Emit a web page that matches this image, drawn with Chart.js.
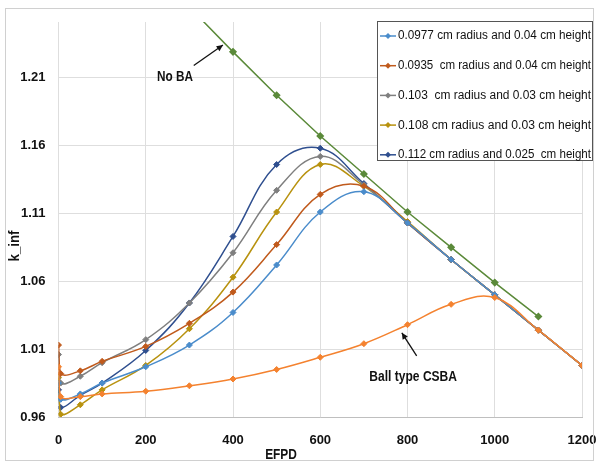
<!DOCTYPE html>
<html>
<head>
<meta charset="utf-8">
<script src="https://cdn.jsdelivr.net/npm/chart.js@4/dist/chart.umd.min.js"></script>
<style>
  body { margin: 0; background: #fff; }
</style>
</head>
<body>
<canvas id="stage" width="596" height="466"></canvas>
<script>
// burnup points (EFPD); 5 = just after xenon build-up
var efpd = [0, 5, 50, 100, 200, 300, 400, 500, 600, 700, 800, 900, 1000, 1100, 1200];
var efpdNoBA = [300, 400, 500, 600, 700, 800, 900, 1000, 1100];

var r0977 = [0.985, 0.973, 0.977, 0.985, 0.997, 1.013, 1.037, 1.072, 1.111, 1.126, 1.103, 1.076, 1.050, 1.024, 0.998];
var r0935 = [1.013, 0.992, 0.994, 1.001, 1.012, 1.029, 1.052, 1.087, 1.124, 1.130, 1.103, 1.076, 1.050, 1.024, 0.998];
var r103  = [1.006, 0.985, 0.990, 1.000, 1.017, 1.044, 1.081, 1.127, 1.152, 1.131, 1.103, 1.076, 1.050, 1.024, 0.998];
var r108  = [0.989, 0.962, 0.969, 0.980, 0.998, 1.025, 1.063, 1.111, 1.146, 1.130, 1.104, 1.076, 1.050, 1.024, 0.998];
var r112  = [0.980, 0.967, 0.976, 0.985, 1.009, 1.044, 1.093, 1.146, 1.158, 1.132, 1.103, 1.076, 1.050, 1.024, 0.998];
var csba  = [0.997, 0.975, 0.975, 0.977, 0.979, 0.983, 0.988, 0.995, 1.004, 1.014, 1.028, 1.043, 1.048, 1.024, 0.998];
var noBA  = [1.262, 1.229, 1.197, 1.167, 1.139, 1.111, 1.085, 1.059, 1.034];

var yTicks = [0.96, 1.01, 1.06, 1.11, 1.16, 1.21];
var xTicks = [0, 200, 400, 600, 800, 1000, 1200];

var legendNames = [
  '0.0977 cm radius and 0.04 cm height',
  '0.0935  cm radius and 0.04 cm height',
  '0.103  cm radius and 0.03 cm height',
  '0.108 cm radius and 0.03 cm height',
  '0.112 cm radius and 0.025  cm height'
];

var FONT = "'Liberation Sans', Arial, sans-serif";

function pairs(xs, ys) {
  return xs.map(function (x, i) { return { x: x, y: ys[i] }; });
}

function series(label, ys, color, inLegend) {
  return {
    label: label,
    data: pairs(efpd, ys),
    borderColor: color,
    backgroundColor: color,
    borderWidth: 1.5,
    pointStyle: 'rectRot',
    pointRadius: 3,
    pointBorderWidth: 1,
    tension: 0.4,
    inLegend: inLegend
  };
}

var datasets = [
  {
    label: 'No BA',
    data: pairs(efpdNoBA, noBA),
    borderColor: '#5b8a3a',
    backgroundColor: '#5b8a3a',
    borderWidth: 1.5,
    pointStyle: 'rectRot',
    pointRadius: 3,
    tension: 0,
    inLegend: false
  },
  series('Ball type CSBA', csba, '#f4822f', false),
  series(legendNames[0], r0977, '#4a8ccb', true),
  series(legendNames[1], r0935, '#c05a1c', true),
  series(legendNames[2], r103, '#7f7f7f', true),
  series(legendNames[3], r108, '#b8920f', true),
  series(legendNames[4], r112, '#2f4f8f', true)
];

function arrow(ctx, x1, y1, x2, y2) {
  ctx.beginPath();
  ctx.moveTo(x1, y1);
  ctx.lineTo(x2, y2);
  ctx.stroke();
  var a = Math.atan2(y2 - y1, x2 - x1);
  ctx.beginPath();
  ctx.moveTo(x2, y2);
  ctx.lineTo(x2 - 7 * Math.cos(a - 0.45), y2 - 7 * Math.sin(a - 0.45));
  ctx.lineTo(x2 - 7 * Math.cos(a + 0.45), y2 - 7 * Math.sin(a + 0.45));
  ctx.closePath();
  ctx.fill();
}

// text squeezed horizontally so it keeps a narrow, condensed look
function narrowText(ctx, text, x, y, squeeze) {
  ctx.save();
  ctx.translate(x, y);
  ctx.scale(squeeze, 1);
  ctx.fillText(text, 0, 0);
  ctx.restore();
}

// frame, axis titles, call-outs and the boxed legend
var decorations = {
  id: 'decorations',
  afterDraw: function (chart) {
    var ctx = chart.ctx;
    var xs = chart.scales.x, ys = chart.scales.y;
    ctx.save();

    ctx.strokeStyle = '#d0d0d0';
    ctx.lineWidth = 1;
    ctx.strokeRect(5.5, 8.5, 588, 452);

    ctx.fillStyle = '#111';
    ctx.font = 'bold 14px ' + FONT;
    ctx.textAlign = 'center';
    ctx.textBaseline = 'middle';
    narrowText(ctx, 'EFPD', 281, 455, 0.85);

    ctx.save();
    ctx.translate(15, 246);
    ctx.rotate(-Math.PI / 2);
    narrowText(ctx, 'k_inf', 0, 0, 0.95);
    ctx.restore();

    ctx.strokeStyle = '#111';
    ctx.lineWidth = 1.3;
    ctx.font = 'bold 14px ' + FONT;
    narrowText(ctx, 'No BA', xs.getPixelForValue(267), ys.getPixelForValue(1.2105), 0.84);
    arrow(ctx, xs.getPixelForValue(310), ys.getPixelForValue(1.219),
               xs.getPixelForValue(377), ys.getPixelForValue(1.234));
    narrowText(ctx, 'Ball type CSBA', xs.getPixelForValue(813), ys.getPixelForValue(0.9895), 0.86);
    arrow(ctx, xs.getPixelForValue(821), ys.getPixelForValue(1.005),
               xs.getPixelForValue(787), ys.getPixelForValue(1.022));

    // legend
    var bx = 377.5, by = 21.5, bw = 215, bh = 139;
    ctx.fillStyle = '#fff';
    ctx.fillRect(bx, by, bw, bh);
    ctx.strokeStyle = '#555';
    ctx.lineWidth = 1;
    ctx.strokeRect(bx, by, bw, bh);
    ctx.font = '12.5px ' + FONT;
    ctx.textAlign = 'left';
    var row = 0;
    chart.data.datasets.forEach(function (ds) {
      if (!ds.inLegend) return;
      var y = 36 + row * 29.7;
      ctx.strokeStyle = ds.borderColor;
      ctx.lineWidth = 1.5;
      ctx.beginPath();
      ctx.moveTo(380, y);
      ctx.lineTo(396, y);
      ctx.stroke();
      ctx.fillStyle = ds.borderColor;
      ctx.beginPath();
      ctx.moveTo(388, y - 3);
      ctx.lineTo(391, y);
      ctx.lineTo(388, y + 3);
      ctx.lineTo(385, y);
      ctx.closePath();
      ctx.fill();
      ctx.fillStyle = '#111';
      var w = ctx.measureText(ds.label).width;
      narrowText(ctx, ds.label, 398, y, Math.min(1, 193 / w));
      row++;
    });
    ctx.restore();
  }
};

new Chart(document.getElementById('stage').getContext('2d'), {
  type: 'line',
  data: { datasets: datasets },
  options: {
    responsive: false,
    animation: false,
    layout: { padding: { left: 0, top: 22, right: 14, bottom: 0 } },
    plugins: {
      legend: { display: false },
      tooltip: { enabled: false }
    },
    scales: {
      x: {
        type: 'linear',
        min: 0,
        max: 1200,
        afterBuildTicks: function (s) { s.ticks = xTicks.map(function (v) { return { value: v }; }); },
        afterFit: function (s) { s.height = 49; s.paddingLeft = 0; s.paddingRight = 0; },
        grid: { color: '#dedede', drawTicks: false },
        border: { color: '#bfbfbf' },
        ticks: {
          padding: 16,
          color: '#111',
          font: { family: FONT, size: 13, weight: 'bold' },
          maxRotation: 0,
          callback: function (v) { return String(v); }
        }
      },
      y: {
        min: 0.96,
        max: 1.251,
        afterBuildTicks: function (s) { s.ticks = yTicks.map(function (v) { return { value: v }; }); },
        afterFit: function (s) { s.width = 58.5; s.paddingTop = 0; s.paddingBottom = 0; },
        grid: { color: '#dedede', drawTicks: false },
        border: { display: false },
        ticks: {
          padding: 13,
          color: '#111',
          font: { family: FONT, size: 13, weight: 'bold' },
          callback: function (v) { return v.toFixed(2); }
        }
      }
    }
  },
  plugins: [decorations]
});
</script>
</body>
</html>
